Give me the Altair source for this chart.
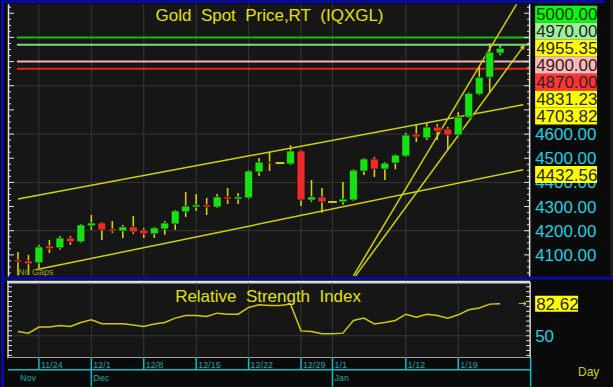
import altair as alt
import numpy as np
import pandas as pd

# ---------------- data ----------------
bar_index = list(range(47))
open_ = [4079, 4075, 4067, 4137, 4129, 4170, 4154, 4220, 4232, 4207,
         4199, 4216, 4203, 4187, 4207, 4228, 4278, 4298, 4307, 4298,
         4340, 4331, 4336, 4443, 4484, 4480, 4476, 4530, 4327, 4340,
         4319, 4319, 4327, 4447, 4497, 4455, 4480, 4509, 4600, 4584,
         4629, 4621, 4596, 4670, 4765, 4835, 4935]
high = [4112, 4100, 4141, 4162, 4178, 4178, 4228, 4265, 4236, 4240,
        4224, 4261, 4212, 4216, 4240, 4286, 4360, 4352, 4336, 4352,
        4377, 4356, 4451, 4501, 4526, 4480, 4554, 4534, 4410, 4377,
        4319, 4402, 4455, 4501, 4505, 4484, 4517, 4604, 4641, 4645,
        4641, 4629, 4691, 4773, 4877, 4976, 4968]
low = [4015, 4017, 4046, 4108, 4121, 4141, 4150, 4203, 4162, 4191,
       4170, 4187, 4170, 4170, 4183, 4203, 4257, 4282, 4265, 4294,
       4311, 4311, 4331, 4426, 4447, 4480, 4472, 4302, 4319, 4274,
       4319, 4307, 4323, 4431, 4422, 4410, 4455, 4505, 4567, 4575,
       4575, 4534, 4592, 4666, 4761, 4773, 4926]
close = [4071, 4063, 4133, 4125, 4170, 4154, 4224, 4232, 4203, 4199,
         4216, 4195, 4187, 4212, 4232, 4282, 4302, 4307, 4298, 4340,
         4331, 4340, 4447, 4484, 4480, 4480, 4530, 4327, 4340, 4319,
         4319, 4331, 4451, 4497, 4455, 4480, 4513, 4596, 4588, 4629,
         4612, 4596, 4670, 4769, 4835, 4939, 4955.35]
rsi_values = [54.4, 52.7, 58.9, 58.9, 60.5, 59.5, 63.6, 66.3, 62.2, 62.2,
              62.2, 61.0, 59.5, 62.0, 63.6, 68.0, 70.7, 70.7, 69.7, 73.1,
              72.0, 72.0, 78.9, 81.6, 80.9, 80.9, 82.3, 55.0, 54.4, 52.0,
              52.0, 52.7, 65.6, 68.0, 62.0, 63.6, 65.6, 72.0, 69.0, 72.0,
              70.7, 68.0, 71.4, 76.5, 78.3, 82.3, 82.62]

week_tick_index = [2, 7, 12, 17, 22, 27, 30, 37, 42]
week_tick_labels = ["11/24", "12/1", "12/8", "12/15", "12/22", "12/29", "1/1", "1/12", "1/19"]
month_index = [0, 7, 30]
month_labels = ["Nov", "Dec", "Jan"]

level_values = [5000.00, 4970.00, 4900.00, 4870.00]
level_line_colors = ["#12c012", "#80d880", "#f0b4b4", "#e82222"]
level_box_colors = ["#00ff00", "#9cf09c", "#ffb8b8", "#ff3434"]
last_price = 4955.35

trend_names = ["upper", "lower", "steep_a", "steep_b"]
trend_x0 = [0.0, 1.7, 32.0, 32.2]
trend_p0 = [4331, 4038, 4013, 4013]
trend_x1 = [46, 46, 47.5, 46]
trend_p1 = [4703.82, 4432.56, 5133, 4831.23]
trend_labels = [4831.23, 4703.82, 4432.56]

price_axis_values = [4100, 4200, 4300, 4400, 4500, 4600, 4700, 4800, 4900, 5000]
price_grid = [4200, 4400, 4600, 4800]
rsi_last = 82.62
rsi_axis_values = [50]
rsi_grid = [50]

# ---------------- layout / style ----------------
W = 523
H_TOP, H_SEP, H_RSI, H_DATE = 273, 6, 75, 29
X_MIN, X_MAX = -0.952, 48.857
Y_MIN, Y_MAX = 4009, 5137
R_MIN, R_MAX = 27.6, 104.0
X_END = 48.2

FONT = "Liberation Sans"
YEL = "#d2d200"
CYAN = "#1ad2e0"
TEAL = "#1ea4a4"
CYLINE = "#00c4c8"
BLUE = "#0a0aa8"
GRID = "#363636"
PLOT_BG = "#161616"
BG = "#0a0a0a"

xs = alt.Scale(domain=[X_MIN, X_MAX], nice=False, zero=False)
ys = alt.Scale(domain=[Y_MIN, Y_MAX], nice=False, zero=False)
rs = alt.Scale(domain=[R_MIN, R_MAX], nice=False, zero=False)


def X(f):
    return alt.X(f, type="quantitative", scale=xs, axis=None)


def Y(f):
    return alt.Y(f, type="quantitative", scale=ys, axis=None)


def R(f):
    return alt.Y(f, type="quantitative", scale=rs, axis=None)


one = pd.DataFrame({"a": [0]})


def band(x0, x1, y0, y1, color):
    return alt.Chart(one).mark_rect(color=color).encode(
        x=alt.value(x0), x2=alt.value(x1), y=alt.value(y0), y2=alt.value(y1))


# ---------------- top (price) panel ----------------
c = pd.DataFrame({"i": bar_index, "o": open_, "h": high, "l": low, "c": close})
c["xl"] = c["i"] - 0.38
c["xr"] = c["i"] + 0.38
c["dl"] = c["i"] - 0.42
c["dr"] = c["i"] + 0.42
c["col"] = np.where(c["c"] >= c["o"], "#16e016", "#f02a2a")
flat = c[c["o"] == c["c"]]
bodies = c[c["o"] != c["c"]]

weeks = pd.DataFrame({"i": week_tick_index, "t": week_tick_labels})
months = pd.DataFrame({"i": month_index, "t": month_labels})

vgrid = alt.Chart(weeks).mark_rule(color=GRID, strokeWidth=1).encode(x=X("i"))
hgrid = alt.Chart(pd.DataFrame({"v": price_grid})).mark_rule(color=GRID, strokeWidth=1).encode(y=Y("v"))

lev = pd.DataFrame({"v": level_values, "col": level_line_colors})
lev["x0"] = bar_index[0] - 0.1
lev["x1"] = X_MAX
levels = alt.Chart(lev).mark_rule(strokeWidth=2).encode(
    x=X("x0"), x2=alt.X2("x1"), y=Y("v"), color=alt.Color("col", scale=None))

# trend lines, extended to the right edge
rows = []
for n, x0, p0, x1, p1 in zip(trend_names, trend_x0, trend_p0, trend_x1, trend_p1):
    slope = (p1 - p0) / (x1 - x0)
    rows.append({"name": n, "x": x0, "p": p0})
    rows.append({"name": n, "x": X_END, "p": p0 + slope * (X_END - x0)})
tr = pd.DataFrame(rows)
trend = alt.Chart(tr).mark_line(color=YEL, strokeWidth=1.5, clip=True).encode(
    x=X("x"), y=Y("p"), detail="name")
arrow_df = tr[(tr["name"] == "steep_b") & (tr["x"] == X_END)]
arrow = alt.Chart(arrow_df).mark_point(shape="triangle-up", angle=36, size=28, filled=True,
                                       color=YEL, opacity=1).encode(x=X("x"), y=Y("p"))

wicks = alt.Chart(bodies).mark_rule(color=YEL, strokeWidth=1.6).encode(
    x=X("i"), y=Y("l"), y2=alt.Y2("h"))
body = alt.Chart(bodies).mark_rect(stroke="#000000", strokeWidth=0.6).encode(
    x=X("xl"), x2=alt.X2("xr"), y=Y("o"), y2=alt.Y2("c"), color=alt.Color("col", scale=None))
doji = alt.Chart(flat).mark_rule(color=YEL, strokeWidth=2).encode(
    x=X("dl"), x2=alt.X2("dr"), y=Y("o"))

tv = np.arange(Y_MIN + 16, Y_MAX, 25)
ticks = pd.DataFrame({"v": tv})
ticks["major"] = (ticks["v"] % 100) == 0
minor_t = ticks[~ticks["major"]]
major_t = ticks[ticks["major"]]
tick_layers = [
    alt.Chart(minor_t).mark_rule(color="#e6e6e6", strokeWidth=1).encode(x=alt.value(0), x2=alt.value(3), y=Y("v")),
    alt.Chart(major_t).mark_rule(color="#e6e6e6", strokeWidth=1).encode(x=alt.value(0), x2=alt.value(6), y=Y("v")),
    alt.Chart(minor_t).mark_rule(color="#e6e6e6", strokeWidth=1).encode(x=alt.value(W - 3), x2=alt.value(W), y=Y("v")),
    alt.Chart(major_t).mark_rule(color="#e6e6e6", strokeWidth=1).encode(x=alt.value(W - 6), x2=alt.value(W), y=Y("v")),
    alt.Chart(one).mark_rule(color="#e6e6e6", strokeWidth=1.5).encode(x=alt.value(0.5), y=alt.value(0), y2=alt.value(H_TOP)),
    alt.Chart(one).mark_rule(color="#e6e6e6", strokeWidth=1.5).encode(x=alt.value(W - 0.5), y=alt.value(0), y2=alt.value(H_TOP)),
]

# stacked value boxes on the right
px_per_unit = H_TOP / (Y_MAX - Y_MIN)
row_h = 17 / px_per_unit
stack = [(v, col) for v, col in zip(level_values, level_box_colors)]
stack += [(last_price, "#ffff00")] + [(v, "#ffff00") for v in trend_labels[:2]]
stack.sort(key=lambda t: -t[0])
anchor = [v for v, _ in stack].index(last_price)
box_rows = []
for k, (v, col) in enumerate(stack):
    ctr = last_price + (anchor - k) * row_h
    box_rows.append({"v": v, "col": col, "ctr": ctr})
stack_lo = min(r["ctr"] for r in box_rows) - row_h / 2
stack_hi = max(r["ctr"] for r in box_rows) + row_h / 2
box_rows.append({"v": trend_labels[2], "col": "#ffff00", "ctr": trend_labels[2]})
bx = pd.DataFrame(box_rows)
bx["lo"] = bx["ctr"] - row_h / 2
bx["hi"] = bx["ctr"] + row_h / 2
bx["t"] = [f"{v:.2f}" for v in bx["v"]]
boxes = alt.Chart(bx).mark_rect().encode(
    x=alt.value(W + 5), x2=alt.value(W + 67), y=Y("lo"), y2=alt.Y2("hi"), color=alt.Color("col", scale=None))
box_text = alt.Chart(bx).mark_text(align="left", baseline="middle", font=FONT, fontSize=17,
                                   color="#262626", dy=1).encode(x=alt.value(W + 6), y=Y("ctr"), text="t")

# price scale labels (those hidden behind the stacked boxes are not drawn)
visible_axis = [v for v in price_axis_values if not (stack_lo - 10 <= v <= stack_hi)]
pax = pd.DataFrame({"v": visible_axis})
pax["t"] = [f"{v:.2f}" for v in visible_axis]
price_labels = alt.Chart(pax).mark_text(align="left", baseline="middle", font=FONT, fontSize=17,
                                        color=CYAN, dy=1).encode(x=alt.value(W + 5), y=Y("v"), text="t")

title = alt.Chart(one).mark_text(align="center", baseline="alphabetic", font=FONT, fontSize=17,
                                 color="#e2e200").encode(
    x=alt.value(262), y=alt.value(17), text=alt.value("Gold\u00a0 Spot\u00a0 Price,RT\u00a0 (IQXGL)"))
nogaps = alt.Chart(one).mark_text(align="left", baseline="alphabetic", font=FONT, fontSize=9,
                                  color="#9c9c1c").encode(x=alt.value(10), y=alt.value(H_TOP - 2),
                                                          text=alt.value("No Gaps"))

frame_top = [
    band(-7, 598, -4, -1, BLUE),
    band(-7, -4, -4, H_TOP, BLUE),
    band(603, 606, -4, H_TOP, "#1c1c1c"),
]

top = alt.layer(
    vgrid, hgrid, levels, trend, arrow, wicks, body, doji, *tick_layers,
    price_labels, boxes, box_text, title, nogaps, *frame_top
).properties(width=W, height=H_TOP, view=alt.ViewBackground(fill=PLOT_BG, stroke="transparent"))

# ---------------- separator ----------------
sep = alt.layer(
    band(-7, 606, 0, 3, BLUE),
    band(-7, -4, 0, H_SEP, BLUE),
    band(-1, W, 4, 5.5, "#e0e0e0"),
).properties(width=W, height=H_SEP, view=alt.ViewBackground(fill=BG, stroke="transparent"))

# ---------------- RSI panel ----------------
rd = pd.DataFrame({"i": bar_index, "r": rsi_values})
r_vgrid = alt.Chart(weeks).mark_rule(color=GRID, strokeWidth=1).encode(x=X("i"))
r_hgrid = alt.Chart(pd.DataFrame({"v": rsi_grid})).mark_rule(color=GRID, strokeWidth=1).encode(y=R("v"))
r_line = alt.Chart(rd).mark_line(color="#cccc00", strokeWidth=1.5).encode(x=X("i"), y=R("r"))
rt = pd.DataFrame({"v": np.arange(30, 101, 5)})
r_ticks = [
    alt.Chart(rt).mark_rule(color="#e6e6e6", strokeWidth=1).encode(x=alt.value(0), x2=alt.value(4), y=R("v")),
    alt.Chart(rt).mark_rule(color="#e6e6e6", strokeWidth=1).encode(x=alt.value(W - 4), x2=alt.value(W), y=R("v")),
]
r_title = alt.Chart(one).mark_text(align="center", baseline="alphabetic", font=FONT, fontSize=17,
                                   color="#e2e200").encode(
    x=alt.value(260.5), y=alt.value(19), text=alt.value("Relative\u00a0 Strength\u00a0 Index"))
rax = pd.DataFrame({"v": rsi_axis_values, "t": [str(v) for v in rsi_axis_values]})
r_labels = alt.Chart(rax).mark_text(align="left", baseline="middle", font=FONT, fontSize=17,
                                    color=CYAN, dy=1).encode(x=alt.value(W + 5), y=R("v"), text="t")
rb = pd.DataFrame({"v": [rsi_last]})
rb["lo"] = rb["v"] - 8.0 * (R_MAX - R_MIN) / H_RSI
rb["hi"] = rb["v"] + 8.0 * (R_MAX - R_MIN) / H_RSI
rb["t"] = [f"{v:.2f}" for v in rb["v"]]
r_box = alt.Chart(rb).mark_rect(color="#ffff00").encode(
    x=alt.value(W + 5), x2=alt.value(W + 48), y=R("lo"), y2=alt.Y2("hi"))
r_box_text = alt.Chart(rb).mark_text(align="left", baseline="middle", font=FONT, fontSize=17,
                                     color="#262626", dy=1).encode(x=alt.value(W + 6), y=R("v"), text="t")
r_arrow = alt.Chart(rb).mark_text(font="DejaVu Sans", fontSize=10, color="#e0e000", baseline="middle").encode(
    x=alt.value(W - 8), y=R("v"), text=alt.value("\u2192"))

rsi = alt.layer(
    r_vgrid, r_hgrid, r_line, *r_ticks, r_title, r_labels, r_box, r_box_text, r_arrow,
    band(-7, -4, 0, H_RSI, BLUE)
).properties(width=W, height=H_RSI,
             view=alt.ViewBackground(fill=PLOT_BG, stroke="#d6d6d6", strokeWidth=1.5))

# ---------------- date axis panel ----------------
d_ticks = alt.Chart(weeks).mark_rule(color=CYLINE, strokeWidth=1.5).encode(
    x=X("i"), y=alt.value(0), y2=alt.value(12))
d_hline = alt.Chart(one).mark_rule(color=CYLINE, strokeWidth=1.5).encode(
    x=alt.value(0), x2=alt.value(W), y=alt.value(12))
d_month_lines = alt.Chart(months[months["i"] > bar_index[0]]).mark_rule(color=CYLINE, strokeWidth=1.5).encode(
    x=X("i"), y=alt.value(12), y2=alt.value(H_DATE))
d_right = alt.Chart(one).mark_rule(color=CYLINE, strokeWidth=1.5).encode(
    x=alt.value(W + 0.5), y=alt.value(0), y2=alt.value(H_DATE))
d_tick_labels = alt.Chart(weeks).mark_text(align="left", baseline="alphabetic", font=FONT, fontSize=9,
                                           color=TEAL, dx=2).encode(x=X("i"), y=alt.value(10.5), text="t")
d_month_labels = alt.Chart(months).mark_text(align="left", baseline="alphabetic", font=FONT, fontSize=9,
                                             color=TEAL, dx=2).encode(x=X("i"), y=alt.value(23), text="t")
d_day = alt.Chart(one).mark_text(align="left", baseline="middle", font=FONT, fontSize=12,
                                 color="#d0d000").encode(x=alt.value(W + 48), y=alt.value(14), text=alt.value("Day"))

dates = alt.layer(
    d_ticks, d_hline, d_month_lines, d_right, d_tick_labels, d_month_labels, d_day,
    band(-7, -4, 0, H_DATE, BLUE)
).properties(width=W, height=H_DATE, view=alt.ViewBackground(fill=BG, stroke="transparent"))

chart = alt.vconcat(top, sep, rsi, dates, spacing=0, bounds="flush").properties(
    padding={"left": 0, "top": 0, "right": 0, "bottom": 0},
    background=BG,
).configure_view(strokeWidth=0)

chart.save("out.html", embed_options={"renderer": "svg", "actions": False})
